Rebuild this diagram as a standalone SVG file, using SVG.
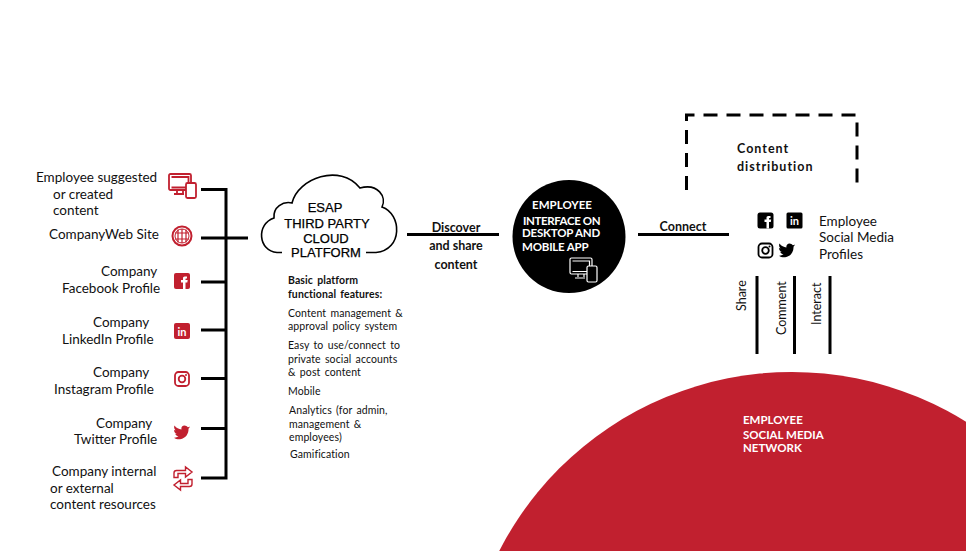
<svg xmlns="http://www.w3.org/2000/svg" width="966" height="551" viewBox="0 0 966 551">
<style>
text{font-family:"Lato","Noto Sans","Liberation Sans",sans-serif;font-size:13.500px;fill:#111}
.b{font-weight:700}
.s{font-size:10.500px;word-spacing:1.500px;letter-spacing:.1px}
.ar{font-family:"Liberation Sans",Arial,sans-serif;font-size:13px;fill:#000;stroke:#000;stroke-width:.25}
.w{fill:#fff;font-weight:700;font-size:11.500px}
.ln{stroke:#000;stroke-width:3;fill:none}
.red{fill:#c1202f}
.rs{stroke:#c1202f;fill:none;stroke-width:1.800}
.ks{stroke:#000;fill:none;stroke-width:1.800}
.ws{stroke:#fff;fill:none;stroke-width:1.200}
.rot{font-size:12.500px}
</style>
<defs>
<g id="devices"><rect x="0" y="0" width="22" height="16" rx="1.500"/><path d="M2.500 3H19.500V13.500H2.500M8 16V19M14 16V19M5 20H15"/></g>
<path id="tw" d="M190 426.500C189.400 426.900 188.600 427.200 187.800 427.300C187 426.300 185.800 425.500 184.500 425.500C182.500 425.500 181 427.200 181.400 429.400C178.800 429.200 176.300 428 174.500 425.500C173.700 427.200 174.200 429.200 175.600 430.300C175 430.300 174.400 430.100 174 429.900C174 431.800 175.200 433.200 176.800 433.700C176.300 433.900 175.700 433.900 175.200 433.800C175.700 435.200 176.900 436.100 178.500 436.300C177 437.400 175.400 437.900 174 437.700C175.700 439 178 439.500 180.200 439.200C186 438.400 188.800 433.400 188.500 428.800C189.100 428.300 189.600 427.500 190 426.500Z"/>
<path id="swap" d="M174 477.500V473Q174 470.500 176.500 470.500H185.500V467L192 472L185.500 477V473.500H178V477.500Z"/>
</defs>
<circle id="network-bg" class="red" cx="792" cy="701" r="329"/>
<g id="connectors">
<path class="ln" d="M201 189.500H226V478H201M201 238H248M201 282H226M201 330H226M201 378.500H226M201 428.500H226"/>
<path class="ln" d="M407 234.500H499M638 234.500H729"/>
<path class="ln" d="M757 276V354M794.500 276V354M830 276V354"/>
<path d="M686.500 190V115H857V190" fill="none" stroke="#000" stroke-width="3" stroke-dasharray="14 9"/>
</g>
<g id="source-employee">
<text x="36" y="182">Employee suggested</text><text x="53" y="199">or created</text><text x="53" y="215">content</text>
<use href="#devices" class="rs" transform="translate(169 174)"/>
<rect x="186" y="183" width="10" height="15" rx="1.500" fill="#fff" stroke="#c1202f" stroke-width="1.800"/>
</g>
<g id="source-web">
<text x="49" y="239">CompanyWeb Site</text>
<g class="rs"><circle cx="182" cy="236" r="9.500" stroke-width="2"/><circle cx="182" cy="236" r="7" stroke-width="1"/><path d="M175 233H189M175 239H189M182 229V243M178 229.500V242.500M186 229.500V242.500" stroke-width="1.200"/></g>
</g>
<g id="source-facebook">
<text x="101" y="276">Company</text><text x="62" y="293">Facebook Profile</text>
<rect class="red" x="174" y="273" width="16" height="16" rx="2"/><path d="M187 276.500H184.800C183.600 276.500 183 277.200 183 278.400V280H181V282.500H183V289H185.500V282.500H187.300L187.700 280H185.500V279C185.500 278.600 185.700 278.400 186 278.400H187Z" fill="#fff"/>
</g>
<g id="source-linkedin">
<text x="93" y="327">Company</text><text x="62" y="344">LinkedIn Profile</text>
<rect class="red" x="174" y="323" width="16" height="16" rx="2"/><text x="182" y="335.500" text-anchor="middle" style="fill:#fff;font-weight:700;font-size:11px">in</text>
</g>
<g id="source-instagram">
<text x="93" y="377">Company</text><text x="54" y="394">Instagram Profile</text>
<rect class="rs" x="175" y="372" width="14" height="14" rx="3.500"/><circle class="rs" cx="182" cy="379" r="3.300"/><circle class="red" cx="186" cy="375" r="1"/>
</g>
<g id="source-twitter">
<text x="96" y="428">Company</text><text x="74" y="444">Twitter Profile</text>
<use href="#tw" class="red"/>
</g>
<g id="source-resources">
<text x="52" y="476">Company internal</text><text x="50" y="493">or external</text><text x="50" y="509">content resources</text>
<use href="#swap" fill="#fff" stroke="#c1202f" stroke-width="1.400"/>
<use href="#swap" fill="#fff" stroke="#c1202f" stroke-width="1.400" transform="rotate(180 183 478.500)"/>
</g>
<g id="cloud">
<path d="M282 252.500H277C258 251 256 224 274 218C273 207 283 201 292 203C298 178 340 163 360 188C378 183 387 197 382 207C402 214 403 250 376 252.500H366" fill="none" stroke="#000" stroke-width="1.600"/>
<text class="ar" x="325" y="212" text-anchor="middle">ESAP</text>
<text class="ar" x="327" y="228" text-anchor="middle">THIRD PARTY</text>
<text class="ar" x="326" y="243" text-anchor="middle">CLOUD</text>
<text class="ar" x="326" y="257" text-anchor="middle">PLATFORM</text>
</g>
<g id="features">
<text class="s b" x="288" y="284">Basic platform</text>
<text class="s b" x="288" y="298">functional  features:</text>
<text class="s" x="288" y="317">Content management &amp;</text>
<text class="s" x="288" y="330">approval policy system</text>
<text class="s" x="288" y="349">Easy to use/connect to</text>
<text class="s" x="288" y="363">private social accounts</text>
<text class="s" x="288" y="376">&amp; post content</text>
<text class="s" x="288" y="395">Mobile</text>
<text class="s" x="289" y="414">Analytics (for admin,</text>
<text class="s" x="289" y="428">management &amp;</text>
<text class="s" x="289" y="441">employees)</text>
<text class="s" x="290" y="458">Gamification</text>
</g>
<g id="label-discover">
<text class="b" x="456" y="232" text-anchor="middle" style="font-size:12.500px">Discover</text>
<text class="b" x="456" y="250" text-anchor="middle" style="font-size:12.500px">and share</text>
<text class="b" x="456" y="269" text-anchor="middle" style="font-size:12.500px">content</text>
</g>
<g id="employee-interface">
<circle cx="569" cy="236.500" r="56.500" fill="#000"/>
<text class="w" x="562" y="208.500" text-anchor="middle">EMPLOYEE</text>
<text class="w" x="523" y="224.500" style="letter-spacing:-.4px">INTERFACE ON</text>
<text class="w" x="522" y="237" style="letter-spacing:-.2px">DESKTOP AND</text>
<text class="w" x="522" y="251" style="letter-spacing:-.2px">MOBILE APP</text>
<use href="#devices" class="ws" transform="translate(570 258)"/>
<rect x="587" y="266" width="10" height="16" rx="1.500" fill="#000" stroke="#fff" stroke-width="1.200"/>
</g>
<g id="label-connect"><text class="b" x="683" y="231" text-anchor="middle" style="font-size:12.500px">Connect</text></g>
<g id="content-distribution">
<text class="b" x="737" y="153" style="letter-spacing:1px;font-size:12.500px">Content</text>
<text class="b" x="737" y="171" style="letter-spacing:1px;font-size:12.500px">distribution</text>
</g>
<g id="employee-profiles">
<rect x="757.500" y="212.500" width="16" height="16" rx="2.500" fill="#000"/>
<path d="M770.500 216H768.300C767.100 216 766.500 216.700 766.500 217.900V219.500H764.500V222H766.500V228.500H769V222H770.800L771.200 219.500H769V218.500C769 218.100 769.200 217.900 769.500 217.900H770.500Z" fill="#fff"/>
<rect x="786.500" y="212.500" width="16" height="16" rx="1.500" fill="#000"/>
<text x="794.500" y="225" text-anchor="middle" style="fill:#fff;font-weight:700;font-size:11px">in</text>
<rect class="ks" x="758.500" y="243.500" width="14" height="14" rx="3.500"/><circle class="ks" cx="765.500" cy="250.500" r="3.300"/><circle cx="769.500" cy="246.500" r="1" fill="#000"/>
<use href="#tw" fill="#000" transform="translate(605 -182)"/>
<text x="819" y="226">Employee</text><text x="819" y="242">Social Media</text><text x="819" y="259">Profiles</text>
</g>
<g id="actions">
<text class="rot" transform="translate(746 311) rotate(-90)">Share</text>
<text class="rot" transform="translate(786 335) rotate(-90)">Comment</text>
<text class="rot" transform="translate(821 325) rotate(-90)">Interact</text>
</g>
<g id="network-label">
<text class="w" x="743" y="424">EMPLOYEE</text>
<text class="w" x="743" y="439">SOCIAL MEDIA</text>
<text class="w" x="743" y="452">NETWORK</text>
</g>
</svg>
